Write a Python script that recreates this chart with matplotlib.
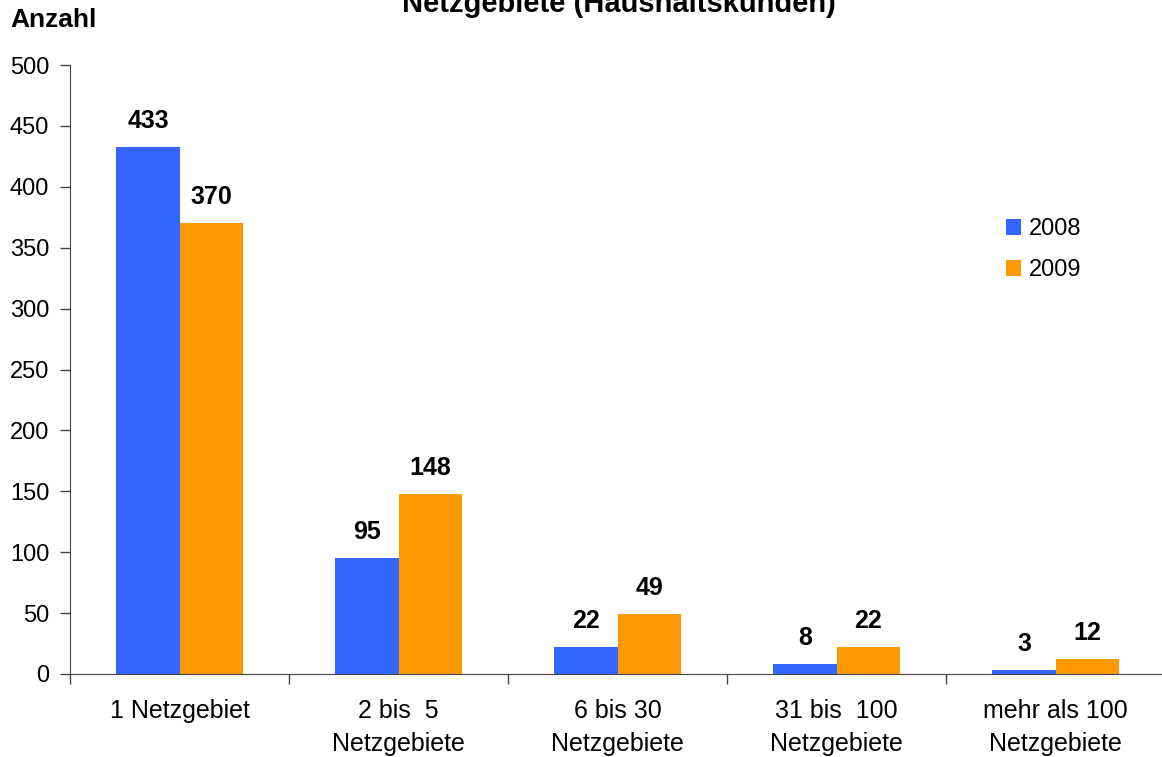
import numpy as np
import matplotlib
matplotlib.use("Agg")
import matplotlib.pyplot as plt

plt.rcParams['font.family'] = ['Liberation Sans', 'DejaVu Sans']

# data
categories = ["1 Netzgebiet", "2 bis  5\nNetzgebiete", "6 bis 30\nNetzgebiete",
              "31 bis  100\nNetzgebiete", "mehr als 100\nNetzgebiete"]
values_2008 = [433, 95, 22, 8, 3]
values_2009 = [370, 148, 49, 22, 12]
series_names = ["2008", "2009"]

blue = "#3366FF"
orange = "#FF9900"

fig = plt.figure(figsize=(11.62, 7.57), dpi=100)
ax = fig.add_axes([70 / 1162, 83 / 757, 1095 / 1162, 609 / 757])

x = np.arange(len(categories))
w = 0.288
b1 = ax.bar(x - w / 2, values_2008, w, color=blue, label=series_names[0])
b2 = ax.bar(x + w / 2, values_2009, w, color=orange, label=series_names[1])

for bars in (b1, b2):
    for r in bars:
        ax.annotate(f"{int(r.get_height())}", (r.get_x() + r.get_width() / 2, r.get_height()),
                    xytext=(0, 10), textcoords="offset points", ha="center", va="bottom",
                    fontsize=18, fontweight="bold")

ax.set_xlim(-0.5, len(categories) - 0.5)
ax.set_ylim(0, 500)
ax.set_yticks(np.arange(0, 501, 50))
ax.tick_params(axis="y", labelsize=17, direction="out", length=7, width=1,
               color="#444444", pad=8)

# ticks at category boundaries, labels at centres
ax.set_xticks(np.arange(-0.5, len(categories), 1.0))
ax.set_xticklabels([])
ax.tick_params(axis="x", which="major", direction="out", length=7, width=1, color="#444444")
ax.set_xticks(x, minor=True)
ax.set_xticklabels(categories, minor=True, fontsize=18, linespacing=1.5)
ax.tick_params(axis="x", which="minor", length=0, pad=18)

for s in ("top", "right"):
    ax.spines[s].set_visible(False)
for s in ("left", "bottom"):
    ax.spines[s].set_color("#444444")

ax.legend(loc="upper left", bbox_to_anchor=(0.835, 0.783), frameon=False, fontsize=17,
          handlelength=0.65, handleheight=0.65, handletextpad=0.35, labelspacing=0.8)

fig.text(10 / 1162, 1 - 20 / 757, "Anzahl", fontsize=19, fontweight="bold", va="center")
fig.text(619 / 1162, 1 - 12 / 757, "Netzgebiete (Haushaltskunden)", fontsize=21,
         fontweight="bold", ha="center", va="baseline")

fig.savefig("out.png", dpi=100)
